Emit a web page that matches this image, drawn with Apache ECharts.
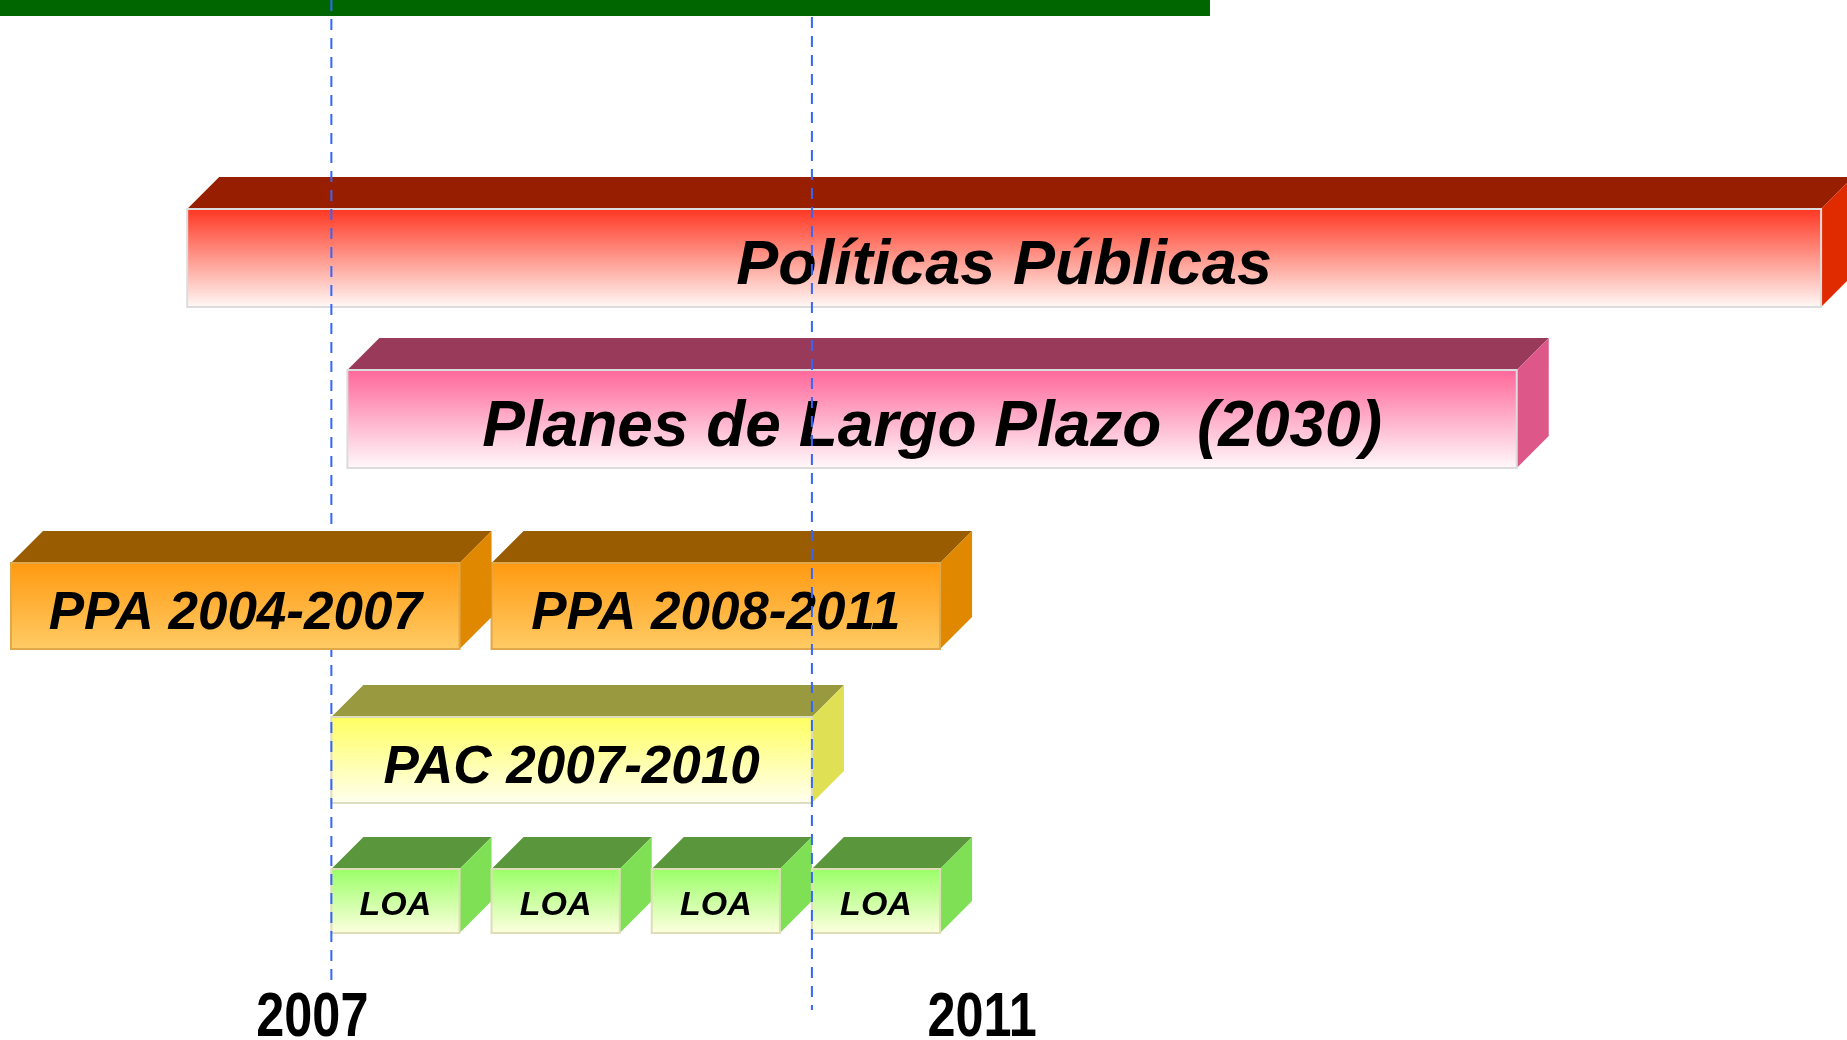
<!DOCTYPE html>
<html>
<head>
<meta charset="utf-8">
<script src="https://cdn.jsdelivr.net/npm/echarts@6/dist/echarts.min.js"></script>
<style>
  html, body { margin: 0; padding: 0; background: #ffffff; }
  #chart { width: 1847px; height: 1040px; }
</style>
</head>
<body>
<div id="chart"></div>
<script>
// rows of the diagram, top to bottom
var rowNames = ['Políticas Públicas', 'Planes de Largo Plazo', 'PPA', 'PAC', 'LOA'];

// one entry per box: label, row, start and end on the year axis
var boxLabels = ['Políticas Públicas', 'Planes de Largo Plazo  (2030)', 'PPA 2004-2007', 'PPA 2008-2011',
    'PAC 2007-2010', 'LOA', 'LOA', 'LOA', 'LOA'];
var boxRow = [0, 1, 2, 2, 3, 4, 4, 4, 4];
var boxStart = [2006.1, 2007.1, 2005.0, 2008.0, 2007.0, 2007.0, 2008.0, 2009.0, 2010.0];
var boxEnd = [2016.5, 2014.6, 2008.0, 2011.0, 2010.2, 2008.0, 2009.0, 2010.0, 2011.0];

// dashed guide lines and the year labels under the boxes
var guideYears = [2007, 2010];
var axisYears = [2007, 2011];

// boxes that sit above the guide lines
var frontBoxes = [2];

// look of each row
var rowStyle = [
    { top: '#981e00', side: '#e02a00', f0: '#ff3520', f1: '#fffaf8', edge: '#dcdcdc', frontH: 98, shift: 0, size: 63, ty: 9 },
    { top: '#993a5a', side: '#dd5888', f0: '#ff6699', f1: '#fffafc', edge: '#dcdcdc', frontH: 98, shift: 1, size: 64, ty: 9 },
    { top: '#995c00', side: '#e08800', f0: '#ff9910', f1: '#ffcc66', edge: '#e0a848', frontH: 86, shift: 28, size: 53, ty: 8 },
    { top: '#999940', side: '#e0e055', f0: '#ffff60', f1: '#fffff0', edge: '#ddddc0', frontH: 86, shift: 22, size: 53, ty: 8 },
    { top: '#5a963c', side: '#80e055', f0: '#99ff66', f1: '#ffffe0', edge: '#ddddb8', frontH: 64, shift: 3, size: 34, ty: 5 }
];
var depth = 32;
var guideSpan = [[0, 983], [17, 1010]];
var yearShift = [-19, 10];
var yearY = 1019;

var chart = echarts.init(document.getElementById('chart'));

function renderBox(params, api) {
    var idx = api.value(3);
    var row = boxRow[idx];
    var st = rowStyle[row];
    var p0 = api.coord([api.value(0), row]);
    var p1 = api.coord([api.value(1), row]);
    var x0 = p0[0], x1 = p1[0];
    var H = depth + st.frontH;
    var yT = p0[1] - H / 2 + st.shift;
    var yF = yT + depth;
    var yB = yF + st.frontH;
    var xF = x1 - depth;
    return {
        type: 'group',
        children: [{
            type: 'polygon',
            shape: { points: [[x0, yF], [x0 + depth, yT], [x1, yT], [xF, yF]] },
            style: { fill: st.top }
        }, {
            type: 'polygon',
            shape: { points: [[xF, yF], [x1, yT], [x1, yB - depth], [xF, yB]] },
            style: { fill: st.side }
        }, {
            type: 'rect',
            shape: { x: x0, y: yF, width: xF - x0, height: st.frontH },
            style: {
                fill: new echarts.graphic.LinearGradient(0, 0, 0, 1, [
                    { offset: 0, color: st.f0 },
                    { offset: 1, color: st.f1 }
                ]),
                stroke: st.edge,
                lineWidth: 2
            }
        }, {
            type: 'text',
            style: {
                text: boxLabels[idx],
                x: (x0 + xF) / 2,
                y: yF + st.frontH / 2 + st.ty,
                align: 'center',
                verticalAlign: 'middle',
                fill: '#000000',
                fontFamily: 'Liberation Sans, Arial, sans-serif',
                fontWeight: 'bold',
                fontStyle: 'italic',
                fontSize: st.size
            }
        }]
    };
}

function boxData(front) {
    var out = [];
    for (var i = 0; i < boxLabels.length; i++) {
        var isFront = frontBoxes.indexOf(i) >= 0;
        if (isFront === front) out.push([boxStart[i], boxEnd[i], boxRow[i], i]);
    }
    return out;
}

var option = {
    backgroundColor: '#ffffff',
    animation: false,
    grid: { left: 11, right: 74, top: 162, bottom: 78 },
    xAxis: {
        type: 'value',
        min: 2005,
        max: 2016,
        interval: 1,
        axisLine: { show: false },
        axisTick: { show: false },
        splitLine: { show: false },
        axisLabel: { show: false }
    },
    yAxis: {
        type: 'category',
        inverse: true,
        data: rowNames,
        show: false
    },
    graphic: [{
        type: 'rect',
        left: 0,
        top: 0,
        z: 0,
        shape: { width: 1210, height: 16 },
        style: { fill: '#006600' }
    }],
    series: [{
        type: 'custom',
        z: 2,
        renderItem: renderBox,
        encode: { x: [0, 1], y: 2 },
        data: boxData(false)
    }, {
        type: 'custom',
        z: 3,
        renderItem: function (params, api) {
            var k = params.dataIndex;
            var x = api.coord([api.value(0), 0])[0];
            return {
                type: 'line',
                shape: { x1: x, y1: guideSpan[k][0], x2: x, y2: guideSpan[k][1] },
                style: { stroke: '#3366ff', lineWidth: 2, lineDash: [11, 8] }
            };
        },
        encode: { x: 0 },
        data: guideYears.map(function (y) { return [y]; })
    }, {
        type: 'custom',
        z: 4,
        renderItem: renderBox,
        encode: { x: [0, 1], y: 2 },
        data: boxData(true)
    }, {
        // year labels under the diagram
        type: 'custom',
        z: 4,
        renderItem: function (params, api) {
            var k = params.dataIndex;
            var x = api.coord([api.value(0), 0])[0] + yearShift[k];
            return {
                type: 'text',
                x: x,
                y: yearY,
                scaleX: 0.8,
                style: {
                    text: String(api.value(0)),
                    x: 0,
                    y: 0,
                    align: 'center',
                    verticalAlign: 'middle',
                    fill: '#000000',
                    fontFamily: 'Liberation Sans, Arial, sans-serif',
                    fontWeight: 'bold',
                    fontSize: 63
                }
            };
        },
        encode: { x: 0 },
        data: axisYears.map(function (y) { return [y]; })
    }]
};

chart.setOption(option);
</script>
</body>
</html>
